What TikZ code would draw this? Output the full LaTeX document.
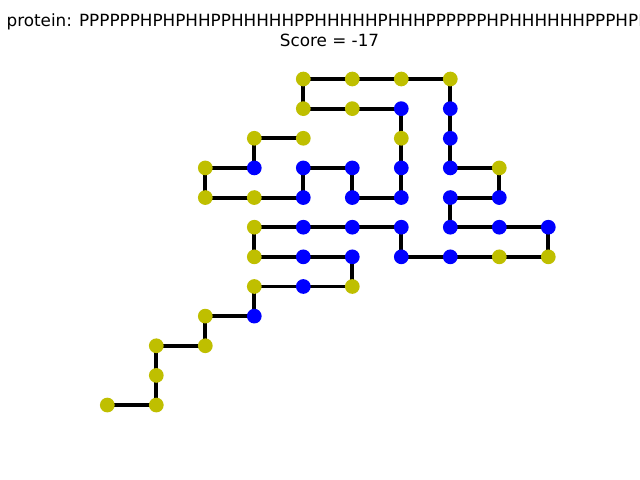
\documentclass[tikz,border=0pt]{standalone}
\usepackage{fontspec}
\setmainfont{DejaVu Sans}
\definecolor{hcol}{RGB}{0,0,255}
\definecolor{pcol}{RGB}{191,191,0}
\begin{document}
\begin{tikzpicture}[x=0.72pt,y=-0.72pt,
  res/.style={circle,inner sep=0pt,minimum size=10.6pt,draw=none},
  H/.style={res,fill=hcol},
  P/.style={res,fill=pcol},
  bond/.style={line width=2.8pt,black},
  ttl/.style={anchor=base,inner sep=0pt,font=\fontsize{12.1}{14}\selectfont}]
\useasboundingbox (0,0) rectangle (640,480);
\fill[white] (0,0) rectangle (640,480);
\node[ttl] (t1) at (327.5,26) {protein: PPPPPPHPHPHHPPHHHHHPPHHHHHPHHHPPPPPPHPHHHHHHPPPHPP};
\node[ttl] (t2) at (329.5,46.7) {Score = -17};
\foreach \i/\c/\r/\t in {
 1/0/11/P, 2/1/11/P, 3/1/10/P, 4/1/9/P, 5/2/9/P, 6/2/8/P, 7/3/8/H, 8/3/7/P, 9/4/7/H, 10/5/7/P,
 11/5/6/H, 12/4/6/H, 13/3/6/P, 14/3/5/P, 15/4/5/H, 16/5/5/H, 17/6/5/H, 18/6/6/H, 19/7/6/H, 20/8/6/P,
 21/9/6/P, 22/9/5/H, 23/8/5/H, 24/7/5/H, 25/7/4/H, 26/8/4/H, 27/8/3/P, 28/7/3/H, 29/7/2/H, 30/7/1/H,
 31/7/0/P, 32/6/0/P, 33/5/0/P, 34/4/0/P, 35/4/1/P, 36/5/1/P, 37/6/1/H, 38/6/2/P, 39/6/3/H, 40/6/4/H,
 41/5/4/H, 42/5/3/H, 43/4/3/H, 44/4/4/H, 45/3/4/P, 46/2/4/P, 47/2/3/P, 48/3/3/H, 49/3/2/P, 50/4/2/P}
 { \coordinate (c\i) at ({107.3+49*\c},{79+29.64*\r}); }
\foreach \i [evaluate=\i as \j using int(\i+1)] in {1,...,49}
 { \draw[bond] (c\i) -- (c\j); }
\foreach \i/\t in {
 1/P, 2/P, 3/P, 4/P, 5/P, 6/P, 7/H, 8/P, 9/H, 10/P,
 11/H, 12/H, 13/P, 14/P, 15/H, 16/H, 17/H, 18/H, 19/H, 20/P,
 21/P, 22/H, 23/H, 24/H, 25/H, 26/H, 27/P, 28/H, 29/H, 30/H,
 31/P, 32/P, 33/P, 34/P, 35/P, 36/P, 37/H, 38/P, 39/H, 40/H,
 41/H, 42/H, 43/H, 44/H, 45/P, 46/P, 47/P, 48/H, 49/P, 50/P}
 { \node[\t] (n\i) at (c\i) {}; }
\end{tikzpicture}
\end{document}
